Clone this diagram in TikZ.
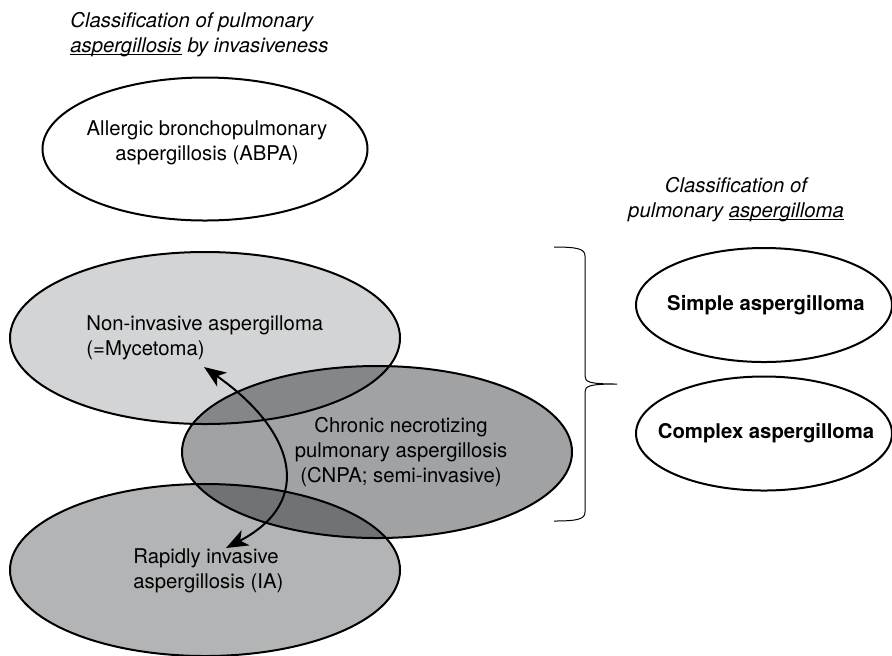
\documentclass[tikz,border=0pt]{standalone}
\usepackage{fontspec}
\setmainfont{TeX Gyre Heros}
\usetikzlibrary{shapes.geometric,arrows.meta}
\definecolor{grisnoinv}{HTML}{D3D4D5}
\definecolor{griscnpa}{HTML}{A0A2A4}
\definecolor{grisia}{HTML}{B3B4B5}
\newcommand{\subraya}[1]{\setbox0\hbox{#1}\rlap{\rule[-1.3pt]{\wd0}{0.5pt}}\box0\relax}

\begin{document}
\begin{tikzpicture}[x=0.5pt, y=-0.5pt,
    texto/.style={font=\fontsize{10.15pt}{12.5pt}\selectfont, inner sep=0pt},
    titulo/.style={font=\fontsize{10.15pt}{12.5pt}\selectfont\itshape, inner sep=0pt},
    ovalo/.style={ellipse, draw, line width=1pt, inner sep=0pt},
    punta/.tip={Stealth[length=11pt, width=8.5pt, inset=3pt]}]
        \useasboundingbox (0,0) rectangle (892,655);

        % Titulos
        \node[titulo, anchor=west, align=left] (tinv) at (70,35) {Classification of pulmonary\\\subraya{aspergillosis} by invasiveness};
        \node[titulo, align=center] (tasp) at (736,200) {Classification of\\pulmonary \subraya{aspergilloma}};

        % Ovalos blancos
        \node[ovalo, minimum width=162.5pt, minimum height=71.5pt] (abpa) at (205,149) {};
        \node[ovalo, minimum width=128pt, minimum height=57pt] (simple) at (764,305) {};
        \node[ovalo, minimum width=128pt, minimum height=57pt] (complex) at (764,433.5) {};

        % Ovalos grises que se solapan
        \begin{scope}[blend mode=multiply]
            \node[ovalo, fill=grisnoinv, minimum width=195pt, minimum height=86pt] (noinv) at (205,338) {};
            \node[ovalo, fill=griscnpa, minimum width=195pt, minimum height=86pt] (cnpa) at (377,452) {};
            \node[ovalo, fill=grisia, minimum width=195pt, minimum height=86pt] (ia) at (205,570) {};
        \end{scope}

        % Textos
        \node[texto, align=center] (tabpa) at (207,143) {Allergic bronchopulmonary\\aspergillosis (ABPA)};
        \node[texto, anchor=west, align=left] (tnoinv) at (86,338) {Non-invasive aspergilloma\\(=Mycetoma)};
        \node[texto, align=center] (tcnpa) at (401,452) {Chronic necrotizing\\pulmonary aspergillosis\\(CNPA; semi-invasive)};
        \node[texto, anchor=west, align=left] (tia) at (133,571) {Rapidly invasive\\aspergillosis (IA)};
        \node[texto, font=\fontsize{10.15pt}{12.5pt}\selectfont\bfseries] (tsimple) at (766,305) {Simple aspergilloma};
        \node[texto, font=\fontsize{10.15pt}{12.5pt}\selectfont\bfseries] (tcomplex) at (766,433.5) {Complex aspergilloma};

        % Flecha doble
        \coordinate (flarr) at (204,367);
        \coordinate (flab) at (226,548);
        \draw[line width=1pt, punta-punta] (flarr) .. controls (294,430) and (316,501) .. (flab);

        % Llave
        \coordinate (llarr) at (554,247);
        \coordinate (llpico) at (617,384);
        \coordinate (llab) at (554,521);
        \draw[line width=0.5pt] (llarr) .. controls (578,247) and (585,249) .. (585,256) -- (585,376)
            .. controls (585,382) and (589,384) .. (llpico)
            .. controls (589,384) and (585,386) .. (585,392) -- (585,512)
            .. controls (585,519) and (578,521) .. (llab);
\end{tikzpicture}
\end{document}
